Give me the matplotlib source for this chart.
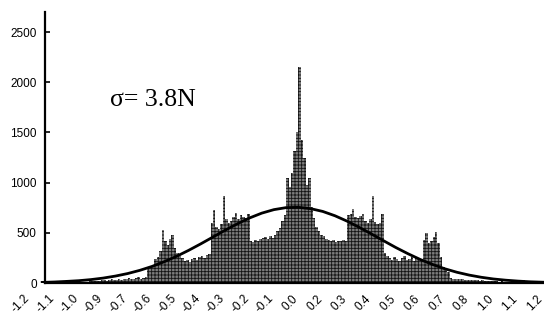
import numpy as np
import matplotlib
matplotlib.use("Agg")
import matplotlib.pyplot as plt
from matplotlib.transforms import ScaledTranslation

# x positions are in tick units: tick i sits under label i
tick_labels = ["-1.2", "-1.1", "-1.0", "-0.9", "-0.7", "-0.6", "-0.5", "-0.4",
               "-0.3", "-0.2", "-0.1", "0.0", "0.2", "0.3", "0.4", "0.5",
               "0.6", "0.7", "0.8", "1.0", "1.1", "1.2"]

# histogram bins (width 0.1 tick units, starting at 0.6)
bin_start = 0.6
bin_width = 0.1
hist_counts = [
    3, 4, 2, 5, 4, 6, 5, 8, 7, 30,
    12, 8, 10, 9, 12, 11, 14, 13, 15, 18,
    20, 24, 18, 26, 30, 22, 28, 35, 25, 32,
    38, 30, 42, 35, 48, 40, 36, 45, 55, 42,
    50, 60, 150, 160, 175, 240, 260, 320, 530, 420,
    380, 440, 480, 350, 300, 270, 250, 220, 230, 210,
    240, 250, 230, 260, 270, 250, 280, 290, 600, 725,
    560, 540, 590, 870, 640, 600, 620, 660, 700, 640,
    680, 660, 650, 690, 420, 410, 430, 420, 440, 450,
    460, 440, 470, 450, 480, 520, 550, 620, 680, 1050,
    960, 1100, 1320, 1500, 2150, 1420, 1250, 980, 1050, 760,
    650, 560, 520, 480, 470, 440, 430, 420, 425, 410,
    420, 415, 430, 420, 680, 690, 735, 660, 650, 670,
    690, 620, 600, 640, 870, 610, 590, 600, 690, 300,
    270, 250, 230, 260, 240, 220, 250, 270, 230, 240,
    260, 220, 250, 240, 230, 430, 500, 400, 420, 460,
    510, 400, 260, 160, 140, 110, 45, 40, 35, 42,
    38, 35, 30, 32, 28, 30, 25, 28, 22, 25,
    20, 22, 18, 20, 15, 17, 14, 16, 12, 14,
    10, 10, 9, 8, 10, 9, 25, 8, 7, 6,
    7, 5, 6, 5, 5,
]

# fitted normal curve, read every half tick
curve_x = [0.5, 1.0, 1.5, 2.0, 2.5, 3.0, 3.5, 4.0, 4.5, 5.0, 5.5, 6.0, 6.5,
           7.0, 7.5, 8.0, 8.5, 9.0, 9.5, 10.0, 10.5, 11.0, 11.5, 12.0, 12.5,
           13.0, 13.5, 14.0, 14.5, 15.0, 15.5, 16.0, 16.5, 17.0, 17.5, 18.0,
           18.5, 19.0, 19.5, 20.0, 20.5, 21.0, 21.5]
curve_y = [6, 10, 16, 23, 34, 49, 69, 94, 126, 165, 212, 265, 325,
           390, 458, 526, 590, 648, 696, 731, 751, 754, 741, 713, 670,
           616, 554, 488, 420, 353, 291, 234, 185, 142, 107, 79,
           57, 40, 28, 19, 12, 8, 5]

y_ticks = [0, 500, 1000, 1500, 2000, 2500]

plt.rcParams["hatch.linewidth"] = 0.6

fig = plt.figure(figsize=(5.44, 3.24), dpi=100)
ax = fig.add_axes([20 / 544, 41 / 324, 524 / 544, 271 / 324])

edges = bin_start + bin_width * np.arange(len(hist_counts) + 1)
ax.stairs(hist_counts, edges, fill=True, facecolor="#7c7c7c",
          edgecolor="#141414", linewidth=0, hatch="+++++")
ax.plot(curve_x, curve_y, color="black", lw=2.0)

y_axis_x = 0.615
ax.set_xlim(-0.41, 21.07)
ax.set_ylim(0, 2700)
ax.spines["top"].set_visible(False)
ax.spines["right"].set_visible(False)
ax.spines["left"].set_position(("data", y_axis_x))
ax.spines["bottom"].set_bounds(y_axis_x, 21.07)
for s in ["left", "bottom"]:
    ax.spines[s].set_linewidth(1.6)

ax.set_yticks(y_ticks)
ax.set_yticklabels([str(v) for v in y_ticks], fontsize=8.5, family="Liberation Sans")
ax.tick_params(axis="y", direction="in", length=3.5, width=1.2, pad=6)

ax.set_xticks(range(len(tick_labels)))
ax.set_xticklabels(tick_labels, fontsize=8.5, family="Liberation Sans",
                   rotation=45, ha="right", va="center", rotation_mode="anchor")
ax.tick_params(axis="x", length=0, pad=10)
# nudge the slanted labels left so they end under their ticks
shift = ScaledTranslation(-2 / 100, 0, fig.dpi_scale_trans)
for lab in ax.get_xticklabels():
    lab.set_transform(lab.get_transform() + shift)

fig.text(110 / 544, 1 - 106 / 324, "σ= 3.8N", fontsize=18.5,
         family="Liberation Serif", va="baseline")

fig.savefig("out.png", dpi=100)
